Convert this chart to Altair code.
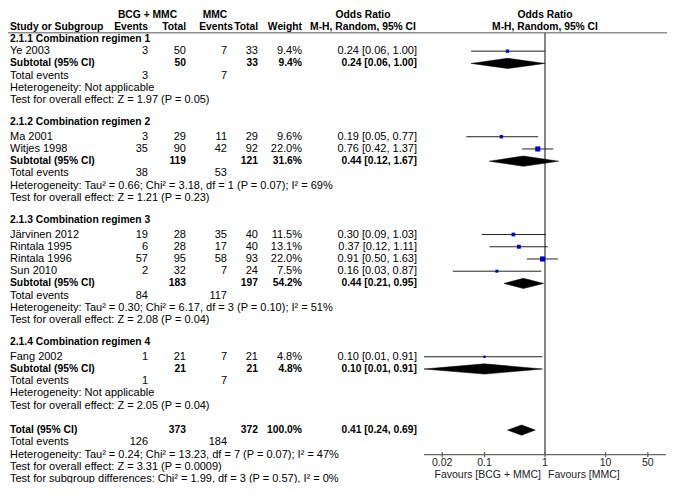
import altair as alt
import pandas as pd

# ---------------- data ----------------
group_labels = ["2.1.1 Combination regimen 1", "2.1.2 Combination regimen 2",
                "2.1.3 Combination regimen 3", "2.1.4 Combination regimen 4"]
study_names = ["Ye 2003", "Ma 2001", "Witjes 1998", "Järvinen 2012",
               "Rintala 1995", "Rintala 1996", "Sun 2010", "Fang 2002"]
study_group = [0, 1, 1, 2, 2, 2, 2, 3]
bcg_events = [3, 3, 35, 19, 6, 57, 2, 1]
bcg_total = [50, 29, 90, 28, 28, 95, 32, 21]
mmc_events = [7, 11, 42, 35, 17, 58, 7, 7]
mmc_total = [33, 29, 92, 40, 40, 93, 24, 21]
study_weight = [9.4, 9.6, 22.0, 11.5, 13.1, 22.0, 7.5, 4.8]
study_or = [0.24, 0.19, 0.76, 0.30, 0.37, 0.91, 0.16, 0.10]
study_lo = [0.06, 0.05, 0.42, 0.09, 0.12, 0.50, 0.03, 0.01]
study_hi = [1.00, 0.77, 1.37, 1.03, 1.11, 1.63, 0.87, 0.91]

sub_bcg_total = [50, 119, 183, 21]
sub_mmc_total = [33, 121, 197, 21]
sub_weight = [9.4, 31.6, 54.2, 4.8]
sub_or = [0.24, 0.44, 0.44, 0.10]
sub_lo = [0.06, 0.12, 0.21, 0.01]
sub_hi = [1.00, 1.67, 0.95, 0.91]
sub_bcg_events = [3, 38, 84, 1]
sub_mmc_events = [7, 53, 117, 7]
sub_het = ["Not applicable",
           "Tau² = 0.66; Chi² = 3.18, df = 1 (P = 0.07); I² = 69%",
           "Tau² = 0.30; Chi² = 6.17, df = 3 (P = 0.10); I² = 51%",
           "Not applicable"]
sub_z = ["Z = 1.97 (P = 0.05)", "Z = 1.21 (P = 0.23)",
         "Z = 2.08 (P = 0.04)", "Z = 2.05 (P = 0.04)"]

total_bcg_total = 373
total_mmc_total = 372
total_weight = 100.0
total_or, total_lo, total_hi = 0.41, 0.24, 0.69
total_bcg_events = 126
total_mmc_events = 184
total_het = "Tau² = 0.24; Chi² = 13.23, df = 7 (P = 0.07); I² = 47%"
total_z = "Z = 3.31 (P = 0.0009)"
subgroup_test = "Chi² = 1.99, df = 3 (P = 0.57), I² = 0%"

tick_values = [0.02, 0.1, 1, 10, 50]
tick_labels = ["0.02", "0.1", "1", "10", "50"]
favour_labels = ["Favours [BCG + MMC]", "Favours [MMC]"]

# ---------------- layout helpers ----------------
W, H = 659, 475
FONT = "Liberation Sans"
FS = 11
FSB = 10.3
FSA = 10.5
yscale = alt.Scale(domain=[0, 38], range=[6.5, 471])
xscale = alt.Scale(type="log", domain=[0.01, 100], range=[416, 658])

COLS = {  # column key -> (x pixel, align)
    "name": (2, "left"), "be": (140, "right"), "bt": (178, "right"),
    "me": (219, "right"), "mt": (250, "right"), "w": (294, "right"),
    "or": (409, "right"),
}

cells = []


def add(row, col, text, bold=False, x=None, align=None):
    px, al = COLS.get(col, (None, None))
    cells.append(dict(row=row, text=str(text), bold=bold,
                      x=px if x is None else x, align=al if align is None else align))


def ortext(o, lo, hi):
    return f"{o:.2f} [{lo:.2f}, {hi:.2f}]"


# header
add(0, "", "BCG + MMC", True, 139.5, "center")
add(0, "", "MMC", True, 207, "center")
add(0, "", "Odds Ratio", True, 355, "center")
add(1, "name", "Study or Subgroup", True)
add(1, "", "Events", True, 140, "right")
add(1, "", "Total", True, 178, "right")
add(1, "", "Events", True, 225, "right")
add(1, "", "Total", True, 250, "right")
add(1, "", "Weight", True, 294, "right")
add(1, "", "M-H, Random, 95% CI", True, 355, "center")

study_rows = []
diamonds = []
r = 2
for g in range(len(group_labels)):
    add(r - (0.2 if g > 0 else 0), "name", group_labels[g], True)
    r += 1
    for i, sg in enumerate(study_group):
        if sg != g:
            continue
        add(r, "name", study_names[i])
        add(r, "be", bcg_events[i])
        add(r, "bt", bcg_total[i])
        add(r, "me", mmc_events[i])
        add(r, "mt", mmc_total[i])
        add(r, "w", f"{study_weight[i]:.1f}%")
        add(r, "or", ortext(study_or[i], study_lo[i], study_hi[i]))
        study_rows.append(dict(row=r, est=study_or[i], lo=study_lo[i],
                               hi=study_hi[i], weight=study_weight[i]))
        r += 1
    add(r, "name", "Subtotal (95% CI)", True)
    add(r, "bt", sub_bcg_total[g], True)
    add(r, "mt", sub_mmc_total[g], True)
    add(r, "w", f"{sub_weight[g]:.1f}%", True)
    add(r, "or", ortext(sub_or[g], sub_lo[g], sub_hi[g]), True)
    diamonds.append((f"g{g}", r, sub_or[g], sub_lo[g], sub_hi[g]))
    r += 1
    add(r, "name", "Total events")
    add(r, "be", sub_bcg_events[g])
    add(r, "me", sub_mmc_events[g])
    r += 1
    add(r, "name", "Heterogeneity: " + sub_het[g])
    r += 1
    add(r, "name", "Test for overall effect: " + sub_z[g])
    r += 2

add(r, "name", "Total (95% CI)", True)
add(r, "bt", total_bcg_total, True)
add(r, "mt", total_mmc_total, True)
add(r, "w", f"{total_weight:.1f}%", True)
add(r, "or", ortext(total_or, total_lo, total_hi), True)
diamonds.append(("tot", r, total_or, total_lo, total_hi))
r += 1
add(r, "name", "Total events")
add(r, "be", total_bcg_events)
add(r, "me", total_mmc_events)
r += 1
axis_row = r
add(r, "name", "Heterogeneity: " + total_het)
r += 1
add(r, "name", "Test for overall effect: " + total_z)
r += 1
add(r, "name", "Test for subgroup differences: " + subgroup_test)

cells_df = pd.DataFrame(cells)

layers = []
for (x, align, bold), sub in cells_df.groupby(["x", "align", "bold"]):
    layers.append(
        alt.Chart(sub).mark_text(align=align, baseline="middle", font=FONT,
                                 fontSize=FSB if bold else FS, color="#000",
                                 fontWeight="bold" if bold else "normal")
        .encode(x=alt.value(float(x)),
                y=alt.Y("row:Q", scale=yscale, axis=None),
                text="text:N")
    )

# header rule across the whole table
rule_df = pd.DataFrame({"row": [1.5]})
layers.append(
    alt.Chart(rule_df).mark_rule(color="#555", strokeWidth=1)
    .encode(x=alt.value(0), x2=alt.value(W), y=alt.Y("row:Q", scale=yscale, axis=None))
)

# forest-plot header
fh_df = pd.DataFrame({"est": [1, 1], "row": [0, 1], "text": ["Odds Ratio", "M-H, Random, 95% CI"]})
layers.append(
    alt.Chart(fh_df).mark_text(align="center", baseline="middle", font=FONT,
                               fontSize=FSB, fontWeight="bold", color="#000")
    .encode(x=alt.X("est:Q", scale=xscale, axis=None),
            y=alt.Y("row:Q", scale=yscale, axis=None), text="text:N")
)

# line of no effect
v_df = pd.DataFrame({"est": [1], "row": [1.5], "row2": [axis_row]})
layers.append(
    alt.Chart(v_df).mark_rule(color="#666", strokeWidth=1.6)
    .encode(x=alt.X("est:Q", scale=xscale, axis=None),
            y=alt.Y("row:Q", scale=yscale, axis=None), y2="row2:Q")
)

# study CIs and squares
st_df = pd.DataFrame(study_rows)
layers.append(
    alt.Chart(st_df).mark_rule(color="#222", strokeWidth=1)
    .encode(x=alt.X("lo:Q", scale=xscale, axis=None), x2="hi:Q",
            y=alt.Y("row:Q", scale=yscale, axis=None))
)
layers.append(
    alt.Chart(st_df).mark_square(color="#0000cc", opacity=1, filled=True)
    .encode(x=alt.X("est:Q", scale=xscale, axis=None),
            y=alt.Y("row:Q", scale=yscale, axis=None),
            size=alt.Size("weight:Q", scale=alt.Scale(domain=[0, 22], range=[0, 26]), legend=None))
)

# diamonds
HALF = 0.42
dia = []
for key, row, est, lo, hi in diamonds:
    dia.append(dict(id=key, est=lo, y1=row, y2=row))
    dia.append(dict(id=key, est=est, y1=row - HALF, y2=row + HALF))
    dia.append(dict(id=key, est=hi, y1=row, y2=row))
dia_df = pd.DataFrame(dia)
layers.append(
    alt.Chart(dia_df).mark_area(color="#000", orient="vertical", stroke="#000", strokeWidth=0.5)
    .encode(x=alt.X("est:Q", scale=xscale, axis=None),
            y=alt.Y("y1:Q", scale=yscale, axis=None), y2="y2:Q", detail="id:N")
)

# axis: domain line, crossing ticks, labels, favours text
ax_df = pd.DataFrame({"lo": [xscale.domain[0]], "hi": [xscale.domain[1]], "row": [axis_row]})
layers.append(
    alt.Chart(ax_df).mark_rule(color="#666", strokeWidth=1.3)
    .encode(x=alt.X("lo:Q", scale=xscale, axis=None), x2="hi:Q",
            y=alt.Y("row:Q", scale=yscale, axis=None))
)
tk_df = pd.DataFrame({"est": tick_values, "label": tick_labels,
                      "y1": [axis_row - 0.2] * len(tick_values),
                      "y2": [axis_row + 0.22] * len(tick_values),
                      "ly": [axis_row + 0.68] * len(tick_values)})
layers.append(
    alt.Chart(tk_df).mark_rule(color="#666", strokeWidth=1.3)
    .encode(x=alt.X("est:Q", scale=xscale, axis=None),
            y=alt.Y("y1:Q", scale=yscale, axis=None), y2="y2:Q")
)
layers.append(
    alt.Chart(tk_df).mark_text(align="center", baseline="middle", font=FONT,
                               fontSize=FSA, color="#222")
    .encode(x=alt.X("est:Q", scale=xscale, axis=None),
            y=alt.Y("ly:Q", scale=yscale, axis=None), text="label:N")
)
fav_df = pd.DataFrame({"est": [1, 1], "row": [axis_row + 1.7] * 2, "text": favour_labels})
layers.append(
    alt.Chart(fav_df.iloc[[0]]).mark_text(align="right", baseline="middle", dx=-4,
                                          font=FONT, fontSize=FSA, color="#222")
    .encode(x=alt.X("est:Q", scale=xscale, axis=None),
            y=alt.Y("row:Q", scale=yscale, axis=None), text="text:N")
)
layers.append(
    alt.Chart(fav_df.iloc[[1]]).mark_text(align="left", baseline="middle", dx=3,
                                          font=FONT, fontSize=FSA, color="#222")
    .encode(x=alt.X("est:Q", scale=xscale, axis=None),
            y=alt.Y("row:Q", scale=yscale, axis=None), text="text:N")
)

chart = (
    alt.layer(*layers)
    .properties(width=W, height=H, autosize=alt.AutoSizeParams(type="none"), padding=0)
    .configure_view(stroke=None)
)

chart.save("out.html", embed_options={"renderer": "svg", "actions": False})
